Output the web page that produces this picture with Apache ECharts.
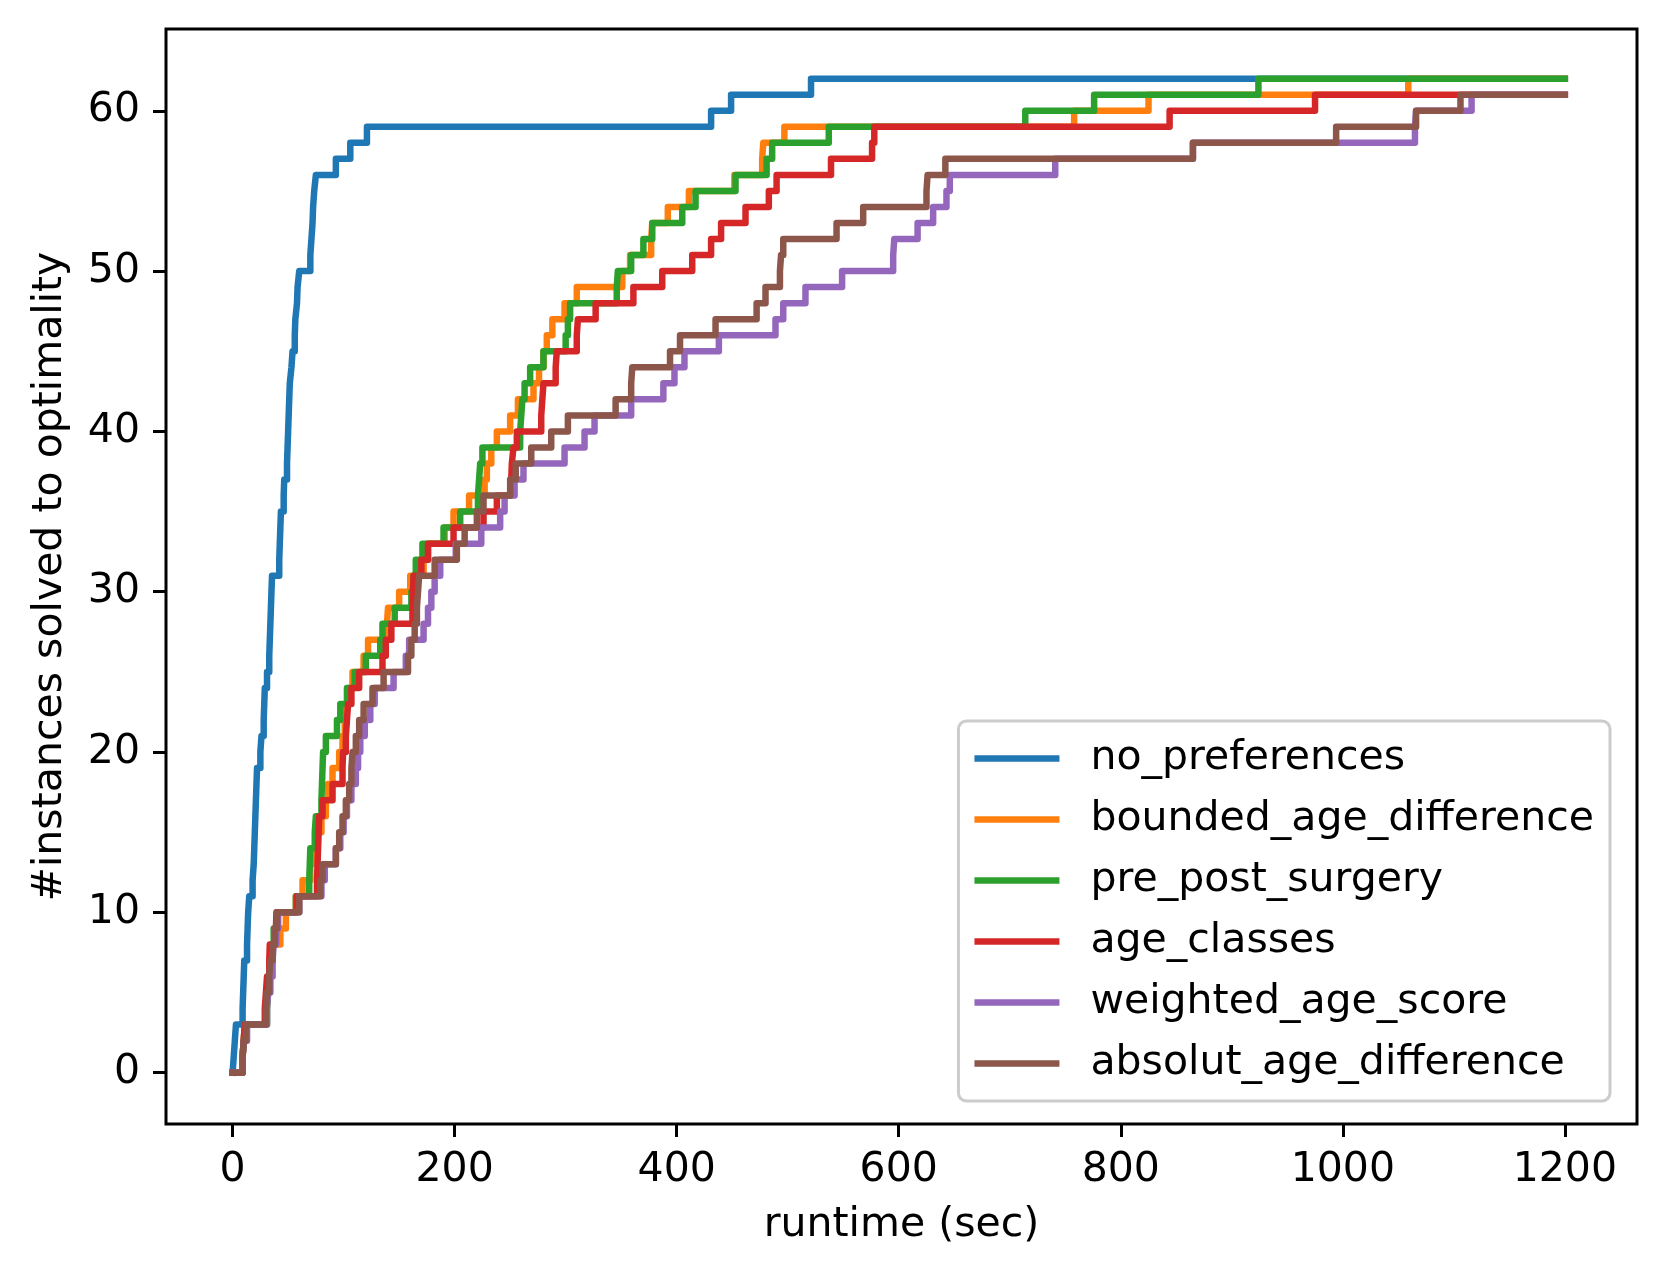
<!DOCTYPE html>
<html>
<head>
<meta charset="utf-8">
<script src="https://cdn.jsdelivr.net/npm/echarts@6/dist/echarts.min.js"></script>
<style>
  html, body { margin: 0; padding: 0; background: #fff; }
  #chart { width: 1660px; height: 1275px; }
</style>
</head>
<body>
<div id="chart"></div>
<script>
// ---- data: solve time (sec) at which the k-th instance was solved ----
const seriesNames = ['no_preferences', 'bounded_age_difference', 'pre_post_surgery',
  'age_classes', 'weighted_age_score', 'absolut_age_difference'];
const seriesColors = ['#1f77b4', '#ff7f0e', '#2ca02c', '#d62728', '#9467bd', '#8c564b'];
const timeLimit = 1200;
const xTicks = [0, 200, 400, 600, 800, 1000, 1200];
const yTicks = [0, 10, 20, 30, 40, 50, 60];

const noPreferences = [1, 2, 3, 9, 9.5, 10, 10.5, 13, 13.5, 14, 15, 18, 19, 19.5, 20, 20.5,
  21, 21.5, 22, 25, 26, 28, 28.5, 29, 31, 33, 33.5, 34, 34.5, 35, 35.5, 42, 42.5, 43, 43.5,
  46, 46.5, 49, 49.5, 50, 50.5, 51, 51.5, 53, 54, 56, 56.5, 58, 58.5, 60, 70, 71, 72, 72.5,
  73.5, 75, 93, 106, 121, 431, 449, 521];

const boundedAgeDifference = [9, 10, 11, 30, 31, 32, 34, 36, 43, 48, 57, 63, 70, 72, 76, 80,
  84, 86, 90, 96, 99, 101, 102, 104, 108, 118, 122, 139, 140, 150, 160, 172, 176, 191, 199,
  213, 227, 229, 233, 238, 250, 257, 271, 276, 280, 283, 288, 299, 310, 351, 358, 377, 378,
  392, 411, 452, 477, 478, 497, 758, 825, 1059];

const prePostSurgery = [9, 10, 11, 31, 32, 33, 34, 35, 37, 40, 57, 69, 69.5, 70, 74, 75, 80,
  80.5, 81, 81.5, 84, 94, 97, 103, 110, 120, 133, 135, 146, 161, 163, 165, 171, 190, 205,
  221, 222, 223, 225, 259, 260, 261, 263, 268, 280, 300, 302, 304, 346, 347, 359, 370, 378,
  405, 417, 453, 481, 486, 537, 714, 776, 924];

const ageClasses = [9, 10, 11, 29, 30, 31, 33, 33.5, 39, 39.5, 58, 76, 76.5, 77, 77.5, 78, 81,
  90, 99, 99.5, 102, 103, 104, 107, 114, 135, 138, 143, 162, 162.5, 163, 170, 176, 199, 226,
  238, 251, 251.5, 253, 256, 278, 279, 280, 291, 292, 310, 311, 327, 361, 387, 414, 431, 440,
  462, 483, 490, 539, 576, 578, 844, 975];

const weightedAgeScore = [9, 10, 13, 31, 32, 34, 36, 37, 39, 41, 60, 80, 83, 93, 97, 100, 103,
  107, 111, 113, 115, 119, 124, 128, 145, 156, 159, 172, 176, 179, 182, 187, 201, 224, 241,
  245, 254, 262, 299, 317, 326, 359, 388, 398, 407, 438, 489, 496, 516, 549, 595, 596, 617,
  631, 643, 646, 741, 865, 1065, 1066, 1116];

const absolutAgeDifference = [9, 10, 12, 30, 31, 33, 34, 36, 38, 40, 60, 79, 81, 93, 96, 99,
  102, 105, 107, 108, 111, 114, 118, 126, 136, 158, 161, 164, 166, 167, 168, 182, 202, 209,
  220, 226, 250, 255, 269, 287, 302, 345, 359, 360, 394, 403, 435, 472, 480, 493, 494, 496,
  544, 568, 625, 626, 642, 865, 994, 1066, 1106];

const seriesTimes = [noPreferences, boundedAgeDifference, prePostSurgery,
  ageClasses, weightedAgeScore, absolutAgeDifference];

// build cumulative step data
function cumulative(times) {
  const pts = [[0, 0]];
  times.forEach((t, i) => pts.push([t, i + 1]));
  pts.push([timeLimit, times.length]);
  return pts;
}

const FONT = 'DejaVu Sans';
const FS = 41;
const chart = echarts.init(document.getElementById('chart'), null, { renderer: 'canvas' });

const option = {
  animation: false,
  backgroundColor: '#ffffff',
  grid: {
    left: 166, right: 23, top: 29, bottom: 151,
    show: true, borderColor: '#000', borderWidth: 3, backgroundColor: 'transparent'
  },
  xAxis: {
    type: 'value',
    min: -60, max: 1265,
    name: 'runtime (sec)',
    nameLocation: 'middle',
    nameGap: 81,
    nameTextStyle: { fontFamily: FONT, fontSize: FS, color: '#000' },
    axisLine: { show: false, onZero: false },
    axisTick: { show: true, length: 13, inside: false, customValues: xTicks,
      lineStyle: { color: '#000', width: 3 } },
    axisLabel: { customValues: xTicks, margin: 26, fontFamily: FONT, fontSize: FS, color: '#000',
      formatter: v => String(v) },
    splitLine: { show: false }
  },
  yAxis: {
    type: 'value',
    min: -3.2, max: 65.1,
    name: '#instances solved to optimality',
    nameLocation: 'middle',
    nameGap: 95,
    nameTextStyle: { fontFamily: FONT, fontSize: FS, color: '#000' },
    axisLine: { show: false, onZero: false },
    axisTick: { show: true, length: 13, inside: false, customValues: yTicks,
      lineStyle: { color: '#000', width: 3 } },
    axisLabel: { customValues: yTicks, margin: 26, fontFamily: FONT, fontSize: FS, color: '#000',
      formatter: v => String(v) },
    splitLine: { show: false }
  },
  legend: {
    orient: 'vertical',
    right: 50, bottom: 174,
    data: seriesNames,
    icon: 'rect',
    itemWidth: 85, itemHeight: 6.5,
    itemGap: 20,
    padding: [17, 16, 17, 16],
    backgroundColor: 'rgba(255,255,255,0.8)',
    borderColor: '#cccccc', borderWidth: 3, borderRadius: 8,
    textStyle: { fontFamily: FONT, fontSize: FS, color: '#000', padding: [0, 0, 0, 26] }
  },
  series: seriesNames.map((name, i) => ({
    name: name,
    type: 'line',
    step: 'end',
    data: cumulative(seriesTimes[i]),
    showSymbol: false,
    symbol: 'none',
    color: seriesColors[i],
    lineStyle: { color: seriesColors[i], width: 6.5, join: 'round', cap: 'square' },
    emphasis: { disabled: true },
    z: 2 + i
  }))
};
chart.setOption(option);
</script>
</body>
</html>
